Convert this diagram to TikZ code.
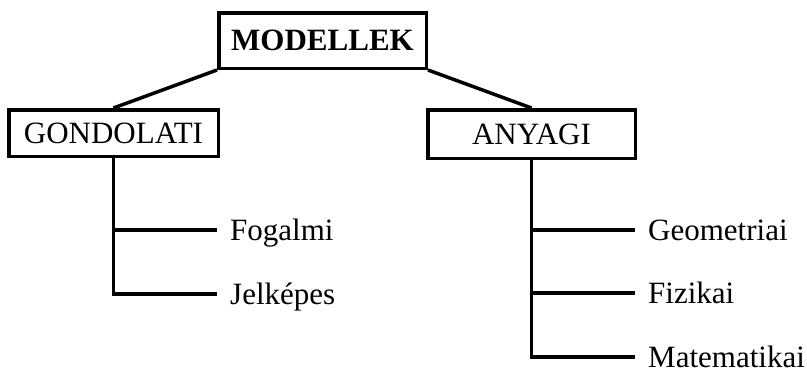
\documentclass[tikz,border=0pt]{standalone}
\usepackage{fontspec}
\setmainfont{Liberation Serif}
\begin{document}
\begin{tikzpicture}[x=1pt,y=-1pt,
  box/.style={draw,line width=3.5pt,inner sep=0pt,font=\fontsize{31}{31}\selectfont},
  leaf/.style={anchor=west,inner xsep=13pt,inner ysep=0pt,text height=26pt,text depth=6pt,font=\fontsize{31}{31}\selectfont},
  conn/.style={line width=3.5pt}]
\useasboundingbox (0,0) rectangle (807,368);
\node[box,minimum width=207.5pt,minimum height=55.5pt,font=\fontsize{31}{31}\selectfont\bfseries] (M) at (322.5,40.5) {MODELLEK};
\node[box,minimum width=209.5pt,minimum height=46.5pt] (G) at (113.5,133) {GONDOLATI};
\node[box,minimum width=207.5pt,minimum height=48.5pt] (A) at (531.5,134) {ANYAGI};
\node[leaf] (fog) at (217,230) {Fogalmi};
\node[leaf] (jel) at (217,294) {Jelképes};
\node[leaf] (geo) at (635,230) {Geometriai};
\node[leaf] (fiz) at (635,293) {Fizikai};
\node[leaf] (mat) at (635,357) {Matematikai};
\draw[conn] (M.south west) -- (G.north);
\draw[conn] (M.south east) -- (A.north);
\draw[conn] (G.south) |- (jel.west);
\draw[conn] (G.south |- fog.west) -- (fog.west);
\draw[conn] (A.south) |- (mat.west);
\draw[conn] (A.south |- geo.west) -- (geo.west);
\draw[conn] (A.south |- fiz.west) -- (fiz.west);
\end{tikzpicture}
\end{document}
